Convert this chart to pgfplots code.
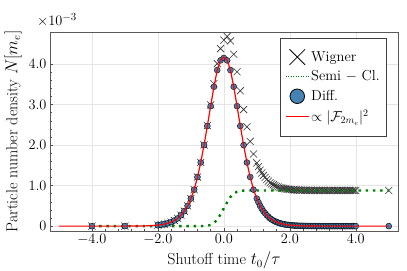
\documentclass[border=0pt]{standalone}
\usepackage{pgfplots}
\usepackage{pgfplotstable}
\pgfplotsset{compat=1.18}
\definecolor{steelblue}{RGB}{70,130,180}
\definecolor{semigreen}{RGB}{0,128,0}

\pgfplotstableread{
t diff semi wig
-4.0 0 0 0
-3.0 0 0 0
-2.0 0.025 0 0.025
-1.9 0.035 0 0.035
-1.8 0.050 0 0.050
-1.7 0.070 0 0.070
-1.6 0.100 0 0.100
-1.5 0.140 0 0.140
-1.4 0.190 0 0.190
-1.3 0.270 0 0.270
-1.2 0.370 0 0.370
-1.1 0.500 0 0.500
-1.0 0.680 0 0.680
-0.9 0.900 0 0.900
-0.8 1.210 0 1.210
-0.7 1.570 0.001 1.571
-0.6 2.000 0.003 2.003
-0.5 2.470 0.010 2.480
-0.4 2.960 0.030 2.990
-0.3 3.440 0.076 3.516
-0.2 3.850 0.160 4.010
-0.1 4.090 0.290 4.380
0.0 4.150 0.440 4.590
0.1 4.090 0.590 4.680
0.2 3.850 0.720 4.570
0.3 3.440 0.800 4.240
0.4 2.960 0.850 3.810
0.5 2.470 0.870 3.340
0.6 2.000 0.877 2.877
0.7 1.570 0.880 2.450
0.8 1.210 0.880 2.090
0.9 0.900 0.880 1.780
1.0 0.680 0.880 1.560
1.05 0.590 0.88 1.470
1.10 0.500 0.88 1.380
1.15 0.430 0.88 1.310
1.20 0.370 0.88 1.250
1.25 0.320 0.88 1.200
1.30 0.270 0.88 1.150
1.35 0.230 0.88 1.110
1.40 0.190 0.88 1.070
1.45 0.165 0.88 1.045
1.50 0.140 0.88 1.020
1.55 0.120 0.88 1.000
1.60 0.100 0.88 0.980
1.65 0.085 0.88 0.965
1.70 0.070 0.88 0.950
1.75 0.060 0.88 0.940
1.80 0.050 0.88 0.930
1.85 0.042 0.88 0.922
1.90 0.035 0.88 0.915
1.95 0.030 0.88 0.910
2.00 0.025 0.88 0.905
2.05 0.021 0.88 0.901
2.10 0.017 0.88 0.897
2.15 0.014 0.88 0.894
2.20 0.012 0.88 0.892
2.25 0.010 0.88 0.890
2.30 0.008 0.88 0.888
2.35 0.007 0.88 0.887
2.40 0.006 0.88 0.886
2.45 0.005 0.88 0.885
2.50 0.004 0.88 0.884
2.55 0.003 0.88 0.883
2.60 0.003 0.88 0.883
2.65 0.002 0.88 0.882
2.70 0.002 0.88 0.882
2.75 0.002 0.88 0.882
2.80 0.001 0.88 0.881
2.85 0.001 0.88 0.881
2.90 0.001 0.88 0.881
2.95 0.001 0.88 0.881
3.00 0.001 0.88 0.881
3.05 0 0.88 0.880
3.10 0 0.88 0.880
3.15 0 0.88 0.880
3.20 0 0.88 0.880
3.25 0 0.88 0.880
3.30 0 0.88 0.880
3.35 0 0.88 0.880
3.40 0 0.88 0.880
3.45 0 0.88 0.880
3.50 0 0.88 0.880
3.55 0 0.88 0.880
3.60 0 0.88 0.880
3.65 0 0.88 0.880
3.70 0 0.88 0.880
3.75 0 0.88 0.880
3.80 0 0.88 0.880
3.85 0 0.88 0.880
3.90 0 0.88 0.880
3.95 0 0.88 0.880
4.00 0 0.88 0.880
5.00 0 0.88 0.880
}\data

\pgfplotstableread{
t f
-5.0 0
-3.0 0
-2.5 0.004
-2.4 0.006
-2.3 0.008
-2.2 0.012
-2.1 0.017
-2.0 0.025
-1.9 0.035
-1.8 0.050
-1.7 0.070
-1.6 0.100
-1.5 0.140
-1.4 0.190
-1.3 0.270
-1.2 0.370
-1.1 0.500
-1.0 0.680
-0.9 0.900
-0.8 1.210
-0.7 1.570
-0.6 2.000
-0.5 2.470
-0.4 2.960
-0.3 3.440
-0.2 3.850
-0.1 4.100
0.0 4.170
0.1 4.100
0.2 3.850
0.3 3.440
0.4 2.960
0.5 2.470
0.6 2.000
0.7 1.570
0.8 1.210
0.9 0.900
1.0 0.680
1.1 0.500
1.2 0.370
1.3 0.270
1.4 0.190
1.5 0.140
1.6 0.100
1.7 0.070
1.8 0.050
1.9 0.035
2.0 0.025
2.1 0.017
2.2 0.012
2.3 0.008
2.4 0.006
2.5 0.004
3.0 0
5.0 0
}\red

\begin{document}
\begin{tikzpicture}
\begin{axis}[
  scale only axis, width=348bp, height=199bp,
  xmin=-5.27, xmax=5.28, ymin=-0.12, ymax=4.79,
  clip mode=individual,
  xtick={-4,-2,0,2,4},
  xticklabels={$-4.0$,$-2.0$,$0.0$,$2.0$,$4.0$},
  ytick={0,1,2,3,4},
  yticklabels={$0$,$1.0$,$2.0$,$3.0$,$4.0$},
  minor x tick num=4, minor y tick num=4,
  tick pos=left, tick align=inside,
  major tick length=3bp, minor tick length=2bp,
  every tick/.style={black!70, line width=0.5pt},
  grid=major, major grid style={black!10, line width=0.5pt},
  axis line style={black!65, line width=0.7pt},
  tick label style={font=\fontsize{15}{18}\selectfont},
  label style={font=\fontsize{16}{19}\selectfont},
  xlabel={Shutoff time $t_0/\tau$},
  ylabel={Particle number density $N[m_e]$},
  legend style={at={(1,1)}, anchor=north east, xshift=-11bp, yshift=-6bp,
    draw=black!75, line width=0.6pt, fill=white,
    font=\fontsize{14.5}{17}\selectfont, row sep=4bp,
    inner xsep=5bp, inner ysep=11bp, cells={anchor=west}},
  legend image code/.code={\draw[mark repeat=2,mark phase=2,#1] plot coordinates {(0cm,0cm) (0.4cm,0cm) (0.8cm,0cm)};},
]
\addplot[forget plot, only marks, mark=x, mark size=5pt, draw=black!80, line width=0.6pt] table[x=t,y=wig]{\data};
\addplot[forget plot, semigreen, line width=2.4pt, dash pattern=on 2.4pt off 4.9pt] table[x=t,y=semi]{\data};
\addplot[forget plot, only marks, mark=*, mark size=3pt, mark options={fill=steelblue, draw=black, line width=0.4pt}] table[x=t,y=diff]{\data};
\addplot[forget plot, red, line width=1.2pt] table[x=t,y=f]{\red};

\addlegendimage{only marks, mark=x, mark size=11pt, black, line width=0.8pt}
\addlegendentry{Wigner}
\addlegendimage{semigreen, line width=1pt, dash pattern=on 1pt off 1.5pt}
\addlegendentry{Semi $-$ Cl.}
\addlegendimage{only marks, mark=*, mark size=7.3pt, mark options={fill=steelblue, draw=black, line width=0.8pt}}
\addlegendentry{Diff.}
\addlegendimage{red, line width=1.2pt}
\addlegendentry{$\propto|\mathcal{F}_{2m_e}|^2$}

\node[anchor=base west, inner sep=0, xshift=-13bp, yshift=6bp, font=\fontsize{15}{18}\selectfont] at (rel axis cs:0,1) {$\times10^{-3}$};
\coordinate (SW) at (rel axis cs:0,0);
\coordinate (NE) at (rel axis cs:1,1);
\end{axis}
\pgfresetboundingbox
\path ([shift={(-50bp,-40bp)}]SW) rectangle ([shift={(9bp,32bp)}]NE);
\end{tikzpicture}
\end{document}
